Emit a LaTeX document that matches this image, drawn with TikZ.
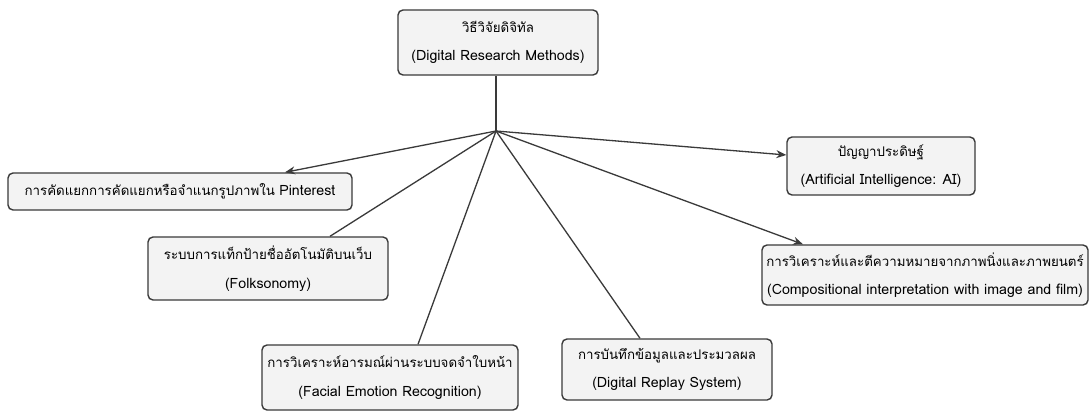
\documentclass[tikz,border=0pt]{standalone}
\usepackage{fontspec}
\setmainfont[Script=Thai]{Loma}
\usetikzlibrary{arrows.meta}
\definecolor{boxfill}{HTML}{F3F3F3}
\definecolor{edge}{HTML}{3A3A3A}
% English subtitles are set a little larger than the Thai titles
\newcommand{\engline}[1]{{\fontsize{14.2}{28.5}\selectfont #1}}
\tikzset{
  topic/.style={draw=edge, line width=1.4pt, fill=boxfill, rounded corners=5pt,
    align=center, inner sep=2pt, font=\fontsize{13.3}{28.5}\selectfont},
  link/.style={draw=edge, line width=1.3pt},
  arrowlink/.style={link, -{Stealth[length=10pt,width=8pt]}}
}
\begin{document}
\begin{tikzpicture}[x=1pt,y=-1pt]
\useasboundingbox (0,0) rectangle (1091,414);
\fill[white] (0,0) rectangle (1091,414);

\node[topic, minimum width=200pt, minimum height=65pt] (root) at (498,42.5)
  {วิธีวิจัยดิจิทัล\\\engline{(Digital Research Methods)}};
\node[topic, minimum width=344pt, minimum height=37pt] (pin) at (180,191.5)
  {การคัดแยกการคัดแยกหรือจำแนกรูปภาพใน \engline{Pinterest}};
\node[topic, minimum width=240pt, minimum height=63pt] (folk) at (268,268.5)
  {ระบบการแท็กป้ายชื่ออัตโนมัติบนเว็บ\\\engline{(Folksonomy)}};
\node[topic, minimum width=188pt, minimum height=58pt] (ai) at (881,166)
  {ปัญญาประดิษฐ์\\\engline{(Artificial Intelligence: AI)}};
\node[topic, minimum width=326pt, minimum height=60pt] (comp) at (925,275)
  {การวิเคราะห์และตีความหมายจากภาพนิ่งและภาพยนตร์\\\engline{(Compositional interpretation with image and film)}};
\node[topic, minimum width=256pt, minimum height=65pt] (face) at (390,377.5)
  {การวิเคราะห์อารมณ์ผ่านระบบจดจำใบหน้า\\\engline{(Facial Emotion Recognition)}};
\node[topic, minimum width=210pt, minimum height=61pt] (replay) at (667,369.5)
  {การบันทึกข้อมูลและประมวลผล\\\engline{(Digital Replay System)}};

\coordinate (hub) at (496,131);
\draw[link] (root.south -| hub) -- (hub);
\draw[arrowlink] (hub) -- ([xshift=105pt]pin.north);
\draw[link] (hub) -- ([xshift=62pt]folk.north);
\draw[link] (hub) -- ([xshift=28pt]face.north);
\draw[link] (hub) -- ([xshift=-27pt]replay.north);
\draw[arrowlink] (hub) -- ([yshift=11pt]ai.west);
\draw[arrowlink] (hub) -- ([xshift=-122pt]comp.north);
\end{tikzpicture}
\end{document}
